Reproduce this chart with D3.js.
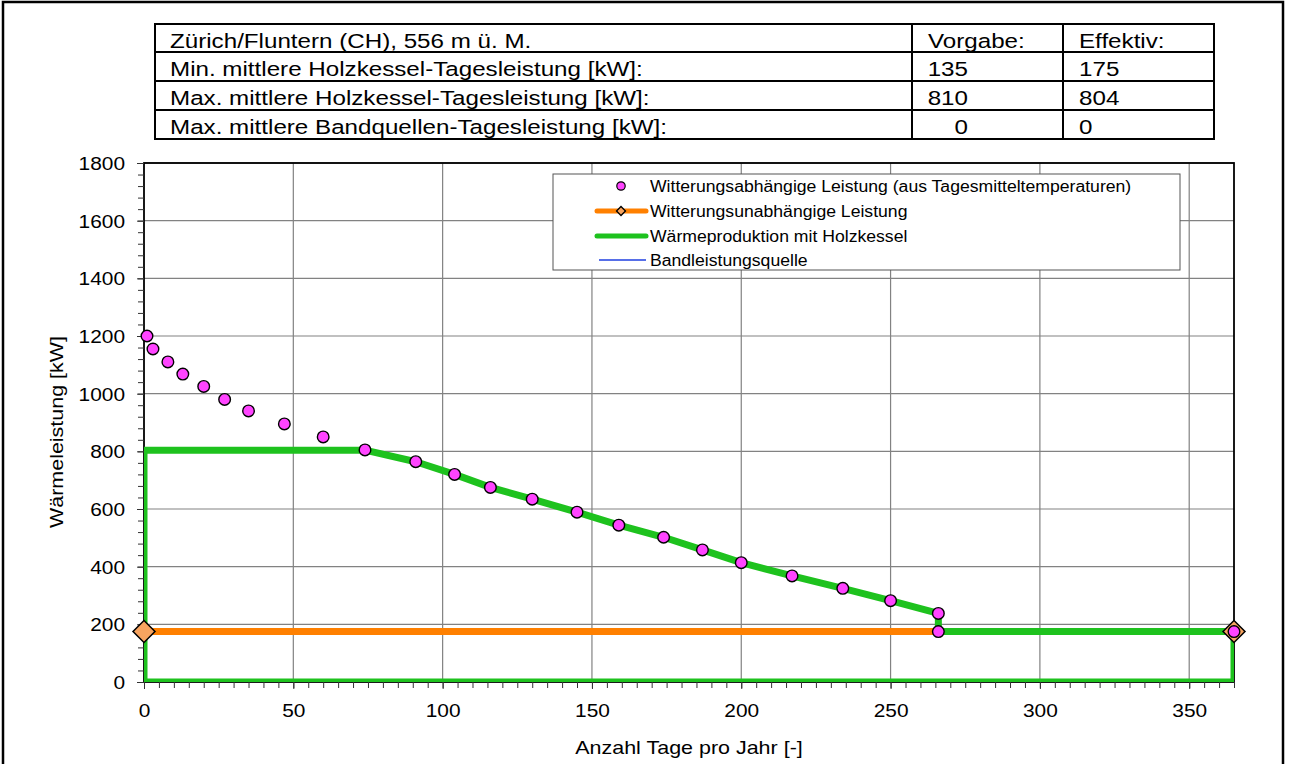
<!DOCTYPE html>
<html><head><meta charset="utf-8">
<script src="https://cdn.jsdelivr.net/npm/d3@7"></script>
<style>
body{margin:0;background:#fff;}
svg text{font-family:"Liberation Sans",Arial,Helvetica,sans-serif;fill:#000;}
</style>
</head><body>
<svg id="c" width="1290" height="764"></svg>
<script>
// ---------- data ----------
const tableLabels = ["Zürich/Fluntern (CH), 556 m ü. M.",
  "Min. mittlere Holzkessel-Tagesleistung [kW]:",
  "Max. mittlere Holzkessel-Tagesleistung [kW]:",
  "Max. mittlere Bandquellen-Tagesleistung [kW]:"];
const tableVorgabe = ["Vorgabe:", "135", "810", "0"];
const tableEffektiv = ["Effektiv:", "175", "804", "0"];

const weatherDays = [1, 3, 8, 13, 20, 27, 35, 47, 60, 74, 91, 104, 116, 130, 145, 159, 174, 187, 200, 217, 234, 250, 266, 266, 365];
const weatherKW   = [1200, 1155, 1110, 1068, 1025, 980, 940, 895, 850, 805, 764, 720, 675, 634, 589, 544, 502, 458, 414, 368, 325, 282, 238, 175, 175];

const baseDays = [0, 266];
const baseKW   = [175, 175];
const baseMarkerDays = [0, 365];
const baseMarkerKW   = [175, 175];

const woodDays = [0, 0, 74, 91, 104, 116, 130, 145, 159, 174, 187, 200, 217, 234, 250, 266, 266, 365, 365, 0];
const woodKW   = [0, 804, 804, 764, 720, 675, 634, 589, 544, 502, 458, 414, 368, 325, 282, 238, 175, 175, 0, 0];

const bandDays = [0, 365];
const bandKW   = [0, 0];

const xTicks = [0, 50, 100, 150, 200, 250, 300, 350];
const yTicks = [0, 200, 400, 600, 800, 1000, 1200, 1400, 1600, 1800];

const legendLabels = ["Witterungsabhängige Leistung (aus Tagesmitteltemperaturen)",
  "Witterungsunabhängige Leistung",
  "Wärmeproduktion mit Holzkessel",
  "Bandleistungsquelle"];

const xTitle = "Anzahl Tage pro Jahr [-]";
const yTitle = "Wärmeleistung [kW]";

// ---------- style ----------
const K = 1.13;   // horizontal text stretch of the original chart rendering
const KT = 1.24;  // horizontal text stretch of the table
const C = {pink:"#ff44ff", green:"#1ec21e", orange:"#ff8000", diamond:"#f7a460", blue:"#1f3fe0", grid:"#828282"};

const svg = d3.select("#c");
const pL = 144, pR = 1234, pT = 163, pB = 682;
const x = d3.scaleLinear().domain([0, 365]).range([pL, pR]);
const y = d3.scaleLinear().domain([0, 1800]).range([pB, pT]);

function txt(g, tx, ty, s, size, anchor, k) {
  return g.append("text")
    .attr("transform", `translate(${tx},${ty}) scale(${k || K},1)`)
    .attr("text-anchor", anchor || "start")
    .style("font-size", size + "px")
    .text(s);
}

// outer frame
svg.append("rect").attr("x", 3).attr("y", 2).attr("width", 1280).attr("height", 780)
  .attr("fill", "none").attr("stroke", "#000").attr("stroke-width", 2.5);

// ---------- table ----------
const tg = svg.append("g");
const tX = [155, 912, 1063, 1214];
const tY = [24, 52, 81, 110, 139];
tg.append("rect").attr("x", tX[0]).attr("y", tY[0]).attr("width", tX[3]-tX[0]).attr("height", tY[4]-tY[0])
  .attr("fill", "none").attr("stroke", "#000").attr("stroke-width", 2);
[1, 2].forEach(i => tg.append("line").attr("x1", tX[i]).attr("x2", tX[i]).attr("y1", tY[0]).attr("y2", tY[4])
  .attr("stroke", "#000").attr("stroke-width", 2));
[1, 2, 3].forEach(i => tg.append("line").attr("x1", tX[0]).attr("x2", tX[3]).attr("y1", tY[i]).attr("y2", tY[i])
  .attr("stroke", "#000").attr("stroke-width", 2));
tableLabels.forEach((s, i) => {
  const by = tY[i] + 24;
  txt(tg, 170, by, s, 19.5, "start", KT);
  if (i === 0) txt(tg, 928, by, tableVorgabe[i], 19.5, "start", KT);
  else txt(tg, 968, by, tableVorgabe[i], 19.5, "end", KT);
  txt(tg, 1079, by, tableEffektiv[i], 19.5, "start", KT);
});

// ---------- grid ----------
const gg = svg.append("g");
gg.selectAll(".gx").data(xTicks.filter(d => d > 0)).join("line")
  .attr("x1", d => x(d)).attr("x2", d => x(d)).attr("y1", pT).attr("y2", pB)
  .attr("stroke", C.grid).attr("stroke-width", 1.2);
gg.selectAll(".gy").data(yTicks.filter(d => d > 0)).join("line")
  .attr("x1", pL).attr("x2", pR).attr("y1", d => y(d)).attr("y2", d => y(d))
  .attr("stroke", C.grid).attr("stroke-width", 1.2);

// plot frame
svg.append("rect").attr("x", pL).attr("y", pT).attr("width", pR-pL).attr("height", pB-pT)
  .attr("fill", "none").attr("stroke", "#000").attr("stroke-width", 1.8);

// ---------- axes ----------
const yMinor = d3.range(0, 1801, 40);
const xMinor = d3.range(0, 366, 5);
svg.append("g").attr("transform", `translate(${pL},0)`)
  .call(d3.axisLeft(y).tickValues(yMinor).tickSize(6).tickFormat(""))
  .call(g => g.select(".domain").remove())
  .call(g => g.selectAll("line").attr("stroke", "#333").attr("stroke-width", 1));
svg.append("g").attr("transform", `translate(0,${pB})`)
  .call(d3.axisBottom(x).tickValues(xMinor).tickSize(6).tickFormat(""))
  .call(g => g.select(".domain").remove())
  .call(g => g.selectAll("line").attr("stroke", "#333").attr("stroke-width", 1));

const yAx = svg.append("g").attr("transform", `translate(${pL},0)`)
  .call(d3.axisLeft(y).tickValues(yTicks).tickSize(7).tickPadding(0).tickFormat(d3.format("d")));
yAx.select(".domain").remove();
yAx.selectAll("line").attr("stroke", "#333");
yAx.selectAll("text").attr("x", null).attr("dy", null)
  .attr("transform", `translate(-19,6.5) scale(${K},1)`)
  .style("font-size", "18.5px").style("font-family", "'Liberation Sans',Arial,sans-serif");

const xAx = svg.append("g").attr("transform", `translate(0,${pB})`)
  .call(d3.axisBottom(x).tickValues(xTicks).tickSize(7).tickPadding(0).tickFormat(d3.format("d")));
xAx.select(".domain").remove();
xAx.selectAll("line").attr("stroke", "#333");
xAx.selectAll("text").attr("y", null).attr("dy", null)
  .attr("transform", `translate(0,35) scale(${K},1)`)
  .style("font-size", "18.5px").style("font-family", "'Liberation Sans',Arial,sans-serif");

// titles
txt(svg, (pL+pR)/2, 754, xTitle, 19, "middle");
svg.append("text")
  .attr("transform", `translate(63,432) rotate(-90) scale(${K},1)`)
  .attr("text-anchor", "middle").style("font-size", "19px").text(yTitle);

// ---------- series ----------
svg.append("clipPath").attr("id", "clip").append("rect")
  .attr("x", pL).attr("y", pT).attr("width", pR-pL).attr("height", pB-pT);
const plot = svg.append("g").attr("clip-path", "url(#clip)");
const line = d3.line().x(d => x(d[0])).y(d => y(d[1]));

plot.append("path").datum(bandDays.map((d, i) => [d, bandKW[i]])).attr("d", line)
  .attr("fill", "none").attr("stroke", C.blue).attr("stroke-width", 2);
plot.append("path").datum(baseDays.map((d, i) => [d, baseKW[i]])).attr("d", line)
  .attr("fill", "none").attr("stroke", C.orange).attr("stroke-width", 7);
plot.append("path").datum(woodDays.map((d, i) => [d, woodKW[i]])).attr("d", line)
  .attr("fill", "none").attr("stroke", C.green).attr("stroke-width", 7).attr("stroke-linejoin", "round");

const diamond = d3.symbol().type(d3.symbolSquare).size(242);
svg.append("g").selectAll("path").data(baseMarkerDays.map((d, i) => [d, baseMarkerKW[i]])).join("path")
  .attr("d", diamond)
  .attr("transform", d => `translate(${x(d[0])},${y(d[1])}) rotate(45)`)
  .attr("fill", C.diamond).attr("stroke", "#000").attr("stroke-width", 1.5);

svg.append("g").selectAll("circle").data(weatherDays.map((d, i) => [d, weatherKW[i]])).join("circle")
  .attr("cx", d => x(d[0])).attr("cy", d => y(d[1])).attr("r", 5.8)
  .attr("fill", C.pink).attr("stroke", "#000").attr("stroke-width", 1.4);

// ---------- legend ----------
const lg = svg.append("g");
lg.append("rect").attr("x", 553).attr("y", 174).attr("width", 627).attr("height", 96)
  .attr("fill", "#fff").attr("stroke", "#555").attr("stroke-width", 1);
const rowY = [186, 211, 236, 260];
legendLabels.forEach((s, i) => txt(lg, 650, rowY[i] + 5.5, s, 15.6));
lg.append("circle").attr("cx", 621).attr("cy", rowY[0]).attr("r", 4.2)
  .attr("fill", C.pink).attr("stroke", "#000").attr("stroke-width", 1.2);
lg.append("line").attr("x1", 597).attr("x2", 646).attr("y1", rowY[1]).attr("y2", rowY[1])
  .attr("stroke", C.orange).attr("stroke-width", 5).attr("stroke-linecap", "round");
lg.append("path").attr("d", d3.symbol().type(d3.symbolSquare).size(40))
  .attr("transform", `translate(621,${rowY[1]}) rotate(45)`)
  .attr("fill", C.diamond).attr("stroke", "#000").attr("stroke-width", 1.3);
lg.append("line").attr("x1", 597).attr("x2", 646).attr("y1", rowY[2]).attr("y2", rowY[2])
  .attr("stroke", C.green).attr("stroke-width", 5).attr("stroke-linecap", "round");
lg.append("line").attr("x1", 599).attr("x2", 646).attr("y1", rowY[3]).attr("y2", rowY[3])
  .attr("stroke", C.blue).attr("stroke-width", 1.5);
</script>
</body></html>
